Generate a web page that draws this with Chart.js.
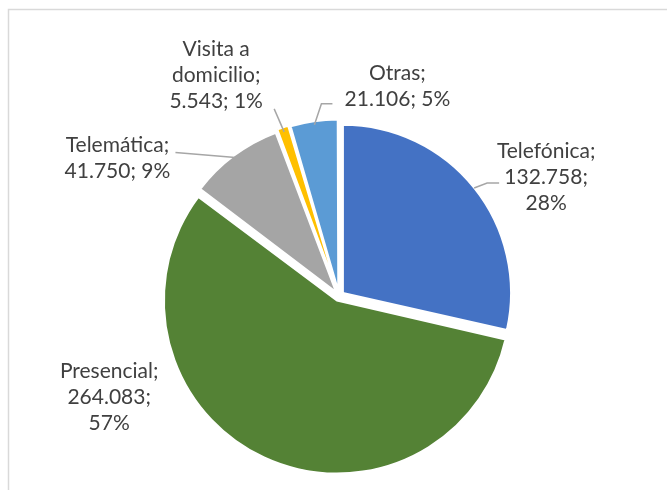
<!DOCTYPE html>
<html>
<head>
<meta charset="utf-8">
<script src="https://cdn.jsdelivr.net/npm/chart.js@4/dist/chart.umd.min.js"></script>
<style>
  html, body { margin: 0; padding: 0; background: #fff; }
  #wrap { width: 667px; height: 490px; }
</style>
</head>
<body>
<div id="wrap"><canvas id="myChart" width="667" height="490"></canvas></div>
<script>
var categories = ['Telefónica', 'Presencial', 'Telemática', 'Visita a domicilio', 'Otras'];
var values = [132758, 264083, 41750, 5543, 21106];
var percents = [28, 57, 9, 1, 5];
var colors = ['#4472C4', '#548235', '#A5A5A5', '#FFC000', '#5B9BD5'];

// label placement relative to the outer mid point of each slice
var labelShift = [[72, -11], [-157, -56], [-118, 1], [-68, -57], [83, -39]];
var leaders = [
    [[13, -5], [25, -5]],
    null,
    [[-60, -5]],
    [[-10, -23]],
    [[7, -21], [18, -21]]
];

function fmt(v) {
    return String(v).replace(/\B(?=(\d{3})+(?!\d))/g, '.');
}

function wrapText(ctx, text, maxW) {
    var words = text.split(' ');
    var lines = [];
    var cur = '';
    words.forEach(function (w) {
        var test = cur ? cur + ' ' + w : w;
        if (cur && ctx.measureText(test).width > maxW) {
            lines.push(cur);
            cur = w;
        } else {
            cur = test;
        }
    });
    if (cur) lines.push(cur);
    return lines;
}

var pieLabels = {
    id: 'pieLabels',
    beforeDraw: function (chart) {
        var ctx = chart.ctx;
        ctx.save();
        ctx.strokeStyle = '#D9D9D9';
        ctx.lineWidth = 1.5;
        ctx.strokeRect(8.5, 9.5, 700, 500);
        ctx.restore();
    },
    afterDatasetsDraw: function (chart) {
        var ctx = chart.ctx;
        var meta = chart.getDatasetMeta(0);
        ctx.save();
        ctx.font = '21px Lato';
        ctx.fillStyle = '#404040';
        ctx.textAlign = 'center';
        ctx.textBaseline = 'middle';
        meta.data.forEach(function (arc, i) {
            var p = arc.getProps(['x', 'y', 'startAngle', 'endAngle', 'outerRadius'], true);
            var s = (arc.options.offset || 0) / 4;
            var mid = (p.startAngle + p.endAngle) / 2;
            var ax = p.x + Math.cos(mid) * (p.outerRadius + s);
            var ay = p.y + Math.sin(mid) * (p.outerRadius + s);

            if (leaders[i]) {
                ctx.beginPath();
                ctx.strokeStyle = '#A6A6A6';
                ctx.lineWidth = 1.5;
                ctx.moveTo(ax, ay);
                leaders[i].forEach(function (pt) {
                    ctx.lineTo(ax + pt[0], ay + pt[1]);
                });
                ctx.stroke();
            }

            var text = categories[i] + '; ' + fmt(values[i]) + '; ' + percents[i] + '%';
            var lines = wrapText(ctx, text, 125);
            var lh = 26;
            var cx = ax + labelShift[i][0];
            var cy = ay + labelShift[i][1];
            var y0 = cy - (lines.length - 1) * lh / 2;
            lines.forEach(function (ln, k) {
                ctx.fillText(ln, cx, y0 + k * lh);
            });
        });
        ctx.restore();
    }
};

var ctx = document.getElementById('myChart');

var chart = new Chart(ctx, {
    type: 'pie',
    data: {
        labels: categories,
        datasets: [{
            data: values,
            backgroundColor: colors,
            borderColor: '#FFFFFF',
            borderWidth: 2,
            offset: 20
        }]
    },
    options: {
        responsive: false,
        animation: false,
        radius: 168,
        layout: { padding: { left: 20, right: 9, top: 110, bottom: 8 } },
        plugins: {
            legend: { display: false },
            tooltip: { enabled: false }
        }
    },
    plugins: [pieLabels]
});
</script>
</body>
</html>
